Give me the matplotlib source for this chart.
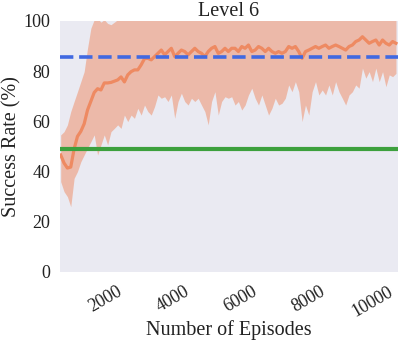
import numpy as np
import matplotlib
matplotlib.use("Agg")
import matplotlib.pyplot as plt

# ─── DATA ──────────────────────────────────────────────────────────────────
mean_rate = [46.6, 43.4, 41.4, 41.8, 49.0, 54.0, 56.0, 59.0, 64.5, 68.0,
             71.5, 73.0, 72.5, 75.3, 75.3, 75.5, 76.0, 76.5, 77.7, 75.7,
             78.5, 79.8, 80.5, 80.5, 82.5, 85.0,
             85.1, 84.5, 85.8, 87.1, 88.4, 86.5, 87.8, 89.1, 85.8, 87.1,
             88.4, 87.8, 86.5, 87.8, 89.1, 87.8, 87.1, 85.8, 87.8, 89.1,
             89.8, 87.1, 87.8, 89.1, 87.8, 89.1,
             89.1, 87.8, 89.8, 89.1, 90.4, 87.8, 88.4, 89.8, 89.1, 87.8,
             89.1, 87.8, 87.1, 87.8, 87.1, 87.8, 89.8, 89.1, 89.8, 87.8,
             85.1, 87.8, 88.4, 89.1, 89.8,
             89.1, 89.8, 90.4, 89.1, 89.8, 90.4, 89.8, 89.1, 88.4, 89.8,
             90.4, 91.8, 92.4, 93.7, 92.4, 91.1, 91.8, 92.4, 90.4, 92.4,
             91.1, 90.4, 91.8, 91.1]

lower_rate = [36.0, 32.0, 30.0, 26.0, 37.3, 40.0, 43.9, 46.6, 49.3, 51.9,
              54.6, 46.6, 50.6, 54.6, 50.6, 55.9, 57.2, 58.6, 57.2, 62.5,
              59.9, 62.5, 61.2, 65.2, 62.5, 66.5,
              63.9, 62.5, 65.9, 70.5, 69.2, 69.8, 67.9, 70.5, 61.2, 67.9,
              71.2, 67.9, 66.5, 69.2, 67.9, 69.2, 66.5, 63.9, 58.6, 67.9,
              71.8, 62.5, 67.9, 69.8, 69.2, 69.8,
              66.5, 67.9, 64.5, 66.5, 70.5, 73.2, 69.2, 66.5, 70.5, 66.5,
              62.5, 65.2, 69.2, 66.5, 67.2, 69.2, 74.5, 71.8, 75.8, 71.8,
              59.9, 66.5, 62.5, 71.8, 75.8,
              70.5, 72.5, 70.5, 74.5, 70.5, 75.8, 71.8, 69.2, 66.5, 70.5,
              71.8, 74.5, 73.2, 81.2, 77.2, 79.8, 75.8, 81.2, 75.8, 79.8,
              73.8, 78.5, 77.8, 79.1]

upper_rate = [54.6, 55.9, 58.6, 63.9, 67.9, 71.8, 75.8, 79.8, 89.1, 97.1,
              100.5, 101.0, 99.5, 100.5, 99.0, 98.5, 99.5, 100.5, 101.0, 102.0,
              103.0, 104.0, 104.0, 105.0, 105.0, 106.0,
              106.0, 105.5, 106.5, 107.0, 108.0, 107.0, 107.5, 108.5, 106.5, 107.0,
              108.0, 107.5, 106.5, 107.5, 108.5, 107.5, 107.0, 106.0, 107.5, 108.5,
              109.0, 107.0, 107.5, 108.5, 107.5, 108.5,
              108.5, 107.5, 109.0, 108.5, 109.5, 107.5, 108.0, 109.0, 108.5, 107.5,
              108.5, 107.5, 107.0, 107.5, 107.0, 107.5, 109.0, 108.5, 109.0, 107.5,
              106.0, 107.5, 108.0, 108.5, 109.0,
              108.5, 109.0, 109.5, 108.5, 109.0, 109.5, 109.0, 108.5, 108.0, 109.0,
              109.5, 110.0, 110.5, 111.0, 110.5, 110.0, 110.0, 110.5, 109.5, 110.5,
              110.0, 109.5, 110.0, 110.0]

episodes = np.linspace(100, 10000, len(mean_rate))

baseline_blue = 85.6
baseline_green = 49.0

x_ticks = [2000, 4000, 6000, 8000, 10000]
y_ticks = [0, 20, 40, 60, 80, 100]
# ────────────────────────────────────────────────────────────────────────────

plt.rcParams['font.family'] = ['Liberation Serif', 'DejaVu Serif']

fig = plt.figure(figsize=(3.99, 3.43), dpi=100)
ax = fig.add_axes([0.150, 0.207, 0.8475, 0.732])
ax.set_facecolor('#EAEAF2')
for s in ax.spines.values():
    s.set_visible(False)

orange = '#EE8A62'
ax.fill_between(episodes, lower_rate, upper_rate, color=orange, alpha=0.5,
                linewidth=0)
ax.plot(episodes, mean_rate, color=orange, linewidth=2.3)
ax.axhline(baseline_blue, color='#4169E1', linestyle='--', linewidth=2.6)
ax.axhline(baseline_green, color='#3DA03D', linewidth=3)

ax.set_xlim(75, 10060)
ax.set_ylim(0, 100)
ax.set_xticks(x_ticks)
ax.set_yticks(y_ticks)
ax.set_xticklabels([str(t) for t in x_ticks], rotation=30, ha='right')
ax.tick_params(axis='both', length=0, labelsize=13, colors='#222222')
ax.tick_params(axis='y', pad=7)
ax.tick_params(axis='x', pad=8)

ax.set_title('Level 6', fontsize=14.5, pad=3, color='#222222')
ax.set_xlabel('Number of Episodes', fontsize=14.5, color='#222222', labelpad=0)
ax.set_ylabel('Success Rate (%)', fontsize=14.5, color='#222222', labelpad=1.5)

fig.savefig('out.png', dpi=100)
